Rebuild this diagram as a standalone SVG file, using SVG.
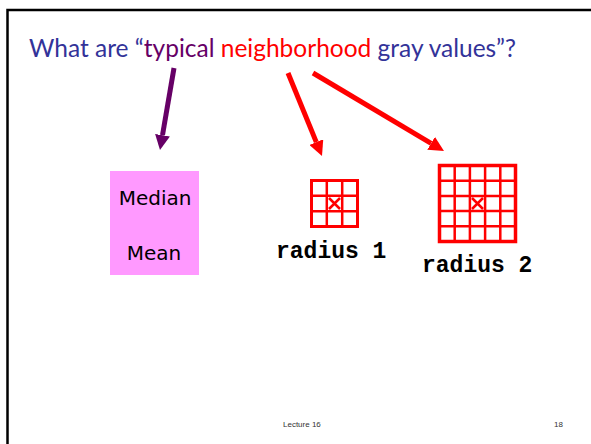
<svg xmlns="http://www.w3.org/2000/svg" width="591" height="444" viewBox="0 0 591 444">
<style>
.title{font-family:"Lato","Open Sans",sans-serif;font-size:24.5px;fill:#333399}
.lbl{font-family:"DejaVu Sans","Noto Sans",sans-serif;font-size:20px;fill:#000;text-anchor:middle}
.mono{font-family:"Liberation Mono","Courier New",monospace;font-weight:bold;font-size:23px;fill:#000}
.foot{font-family:"Liberation Sans",Arial,sans-serif;font-size:8px;fill:#333}
.grid{fill:none;stroke:#ff0000}
</style>
<defs>
<marker id="hp" viewBox="0 0 10 10" refX="0" refY="5" markerWidth="3" markerHeight="3" orient="auto"><path d="M0,0 L10,5 L0,10 z" fill="#660066"/></marker>
<marker id="hr" viewBox="0 0 10 10" refX="0" refY="5" markerWidth="3" markerHeight="3" orient="auto"><path d="M0,0 L10,5 L0,10 z" fill="#ff0000"/></marker>
</defs>
<rect width="591" height="444" fill="#fff"/>
<path d="M7.5,460 V10 H600" fill="none" stroke="#000" stroke-width="2.5"/>
<g id="title"><text class="title" x="29" y="57">What are “<tspan fill="#660066">typical</tspan> <tspan fill="#ff0000">neighborhood</tspan> gray values”?</text></g>
<g id="connectors">
<line x1="174" y1="68" x2="162.5" y2="135.2" stroke="#660066" stroke-width="5" marker-end="url(#hp)"/>
<line x1="288" y1="73" x2="316.3" y2="142.1" stroke="#ff0000" stroke-width="5" marker-end="url(#hr)"/>
<line x1="313" y1="73" x2="431.1" y2="143.3" stroke="#ff0000" stroke-width="5" marker-end="url(#hr)"/>
</g>
<g id="stats">
<rect x="110" y="171" width="89" height="104" fill="#ff99ff"/>
<text class="lbl" x="155" y="205">Median</text>
<text class="lbl" x="154" y="260">Mean</text>
</g>
<g id="radius1">
<rect class="grid" x="311.5" y="180.5" width="46" height="46" stroke-width="3"/>
<path class="grid" stroke-width="2.5" d="M326.8,180.5 V226.5 M342.2,180.5 V226.5 M311.5,195.8 H357.5 M311.5,211.2 H357.5"/>
<path class="grid" stroke-width="2.5" d="M329,198 L340,209 M340,198 L329,209"/>
<text class="mono" x="276" y="258">radius 1</text>
</g>
<g id="radius2">
<rect class="grid" x="439.5" y="165.5" width="76" height="76" stroke-width="3.5"/>
<path class="grid" stroke-width="2.5" d="M454.7,165.5 V241.5 M469.9,165.5 V241.5 M485.1,165.5 V241.5 M500.3,165.5 V241.5 M439.5,180.7 H515.5 M439.5,195.9 H515.5 M439.5,211.1 H515.5 M439.5,226.3 H515.5"/>
<path class="grid" stroke-width="2.5" d="M472,198 L483,209 M483,198 L472,209"/>
<text class="mono" x="422" y="272">radius 2</text>
</g>
<g id="footer">
<text class="foot" x="283" y="427">Lecture 16</text>
<text class="foot" x="554" y="427">18</text>
</g>
</svg>
